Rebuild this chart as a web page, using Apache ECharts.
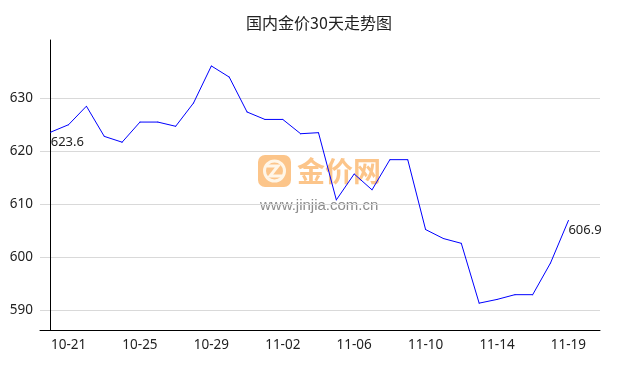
<!DOCTYPE html>
<html>
<head>
<meta charset="utf-8">
<script src="https://cdn.jsdelivr.net/npm/echarts@6/dist/echarts.min.js"></script>
<style>html,body{margin:0;padding:0;background:#fff;}#c{width:638px;height:370px;}</style>
</head>
<body>
<div id="c"></div>
<script>
const titleText = '国内金价30天走势图';
const dates = ['10-20','10-21','10-22','10-23','10-24','10-25','10-26','10-27','10-28','10-29','10-30','10-31',
  '11-01','11-02','11-03','11-04','11-05','11-06','11-07','11-08','11-09','11-10','11-11','11-12','11-13','11-14',
  '11-16','11-17','11-18','11-19'];
const prices = [623.6, 625.0, 628.5, 622.8, 621.7, 625.5, 625.5, 624.7, 629.1, 636.1, 634.0, 627.4, 626.0, 626.0,
  623.3, 623.5, 610.8, 615.7, 612.7, 618.4, 618.4, 605.2, 603.5, 602.6, 591.3, 592.0, 592.9, 592.9, 598.9, 606.9];
const xTickLabels = ['10-21','10-25','10-29','11-02','11-06','11-10','11-14','11-19'];
const yTickValues = [590, 600, 610, 620, 630];

const xTickIdx = xTickLabels.map(l => dates.indexOf(l));
const lastIdx = prices.length - 1;
const seriesData = prices.map((v, i) => ({
  value: [i, v],
  label: { show: i === 0 || i === lastIdx }
}));

const chart = echarts.init(document.getElementById('c'), null, {renderer: 'canvas'});
const txt = '#222';
chart.setOption({
  animation: false,
  backgroundColor: '#fff',
  title: {
    text: titleText, left: 'center', top: 10,
    textStyle: {fontFamily: 'Noto Sans CJK SC', fontSize: 16, fontWeight: 'normal', color: txt}
  },
  grid: {left: 40, right: 38, top: 40, bottom: 40, containLabel: false},
  xAxis: {
    type: 'value', min: -0.6, max: 30.77,
    axisLine: {show: true, onZero: false, lineStyle: {color: '#000', width: 1}},
    axisTick: {show: false},
    splitLine: {show: false},
    axisLabel: {
      customValues: xTickIdx,
      formatter: v => dates[Math.round(v)] || '',
      fontFamily: 'Noto Sans', fontSize: 13.5, color: txt, margin: 8
    }
  },
  yAxis: {
    type: 'value', min: 586.23, max: 641,
    axisLine: {show: true, lineStyle: {color: '#000', width: 1}},
    axisTick: {show: false, customValues: yTickValues},
    splitLine: {show: true, lineStyle: {color: '#d9d9d9', width: 1}},
    axisLabel: {
      customValues: yTickValues,
      fontFamily: 'Noto Sans', fontSize: 13.5, color: txt, margin: 7
    }
  },
  graphic: [
    {type: 'rect', z: 0, silent: true, shape: {x: 258, y: 155, width: 33, height: 32, r: 7}, style: {fill: '#fcc58a'}},
    {type: 'circle', z: 0, silent: true, shape: {cx: 274.5, cy: 171, r: 10}, style: {fill: 'none', stroke: '#fff6e8', lineWidth: 3}},
    {type: 'polyline', z: 0, silent: true, shape: {points: [[267, 166], [278, 166], [270, 176], [282, 176]]}, style: {fill: 'none', stroke: '#fff6e8', lineWidth: 3}},
    {type: 'text', z: 0, silent: true, x: 297, y: 157, style: {text: '金价网', fontFamily: 'Noto Sans CJK SC', fontSize: 28, fontWeight: 'bold', fill: '#fcc58a'}},
    {type: 'text', z: 0, silent: true, x: 260, y: 198, style: {text: 'www.jinjia.com.cn', fontFamily: 'Liberation Sans', fontSize: 15, fill: '#8c8c8c'}}
  ],
  series: [{
    type: 'line',
    data: seriesData,
    symbol: 'circle', symbolSize: 1,
    itemStyle: {color: '#0000ff'},
    lineStyle: {color: '#0000ff', width: 1},
    label: {
      show: false, position: 'bottom', align: 'left', distance: 3,
      fontFamily: 'Noto Sans', fontSize: 13, color: txt,
      formatter: p => p.value[1].toFixed(1)
    },
    z: 5
  }]
});
</script>
</body>
</html>
